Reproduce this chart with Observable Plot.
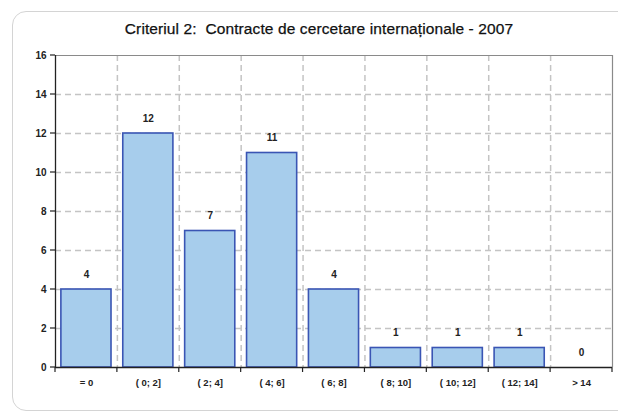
<!DOCTYPE html>
<html>
<head>
<meta charset="utf-8">
<script src="https://cdn.jsdelivr.net/npm/d3@7"></script>
<script src="https://cdn.jsdelivr.net/npm/@observablehq/plot@0.6"></script>
<style>
  html, body { margin: 0; padding: 0; background: #fff; }
  #wrap { position: relative; width: 618px; height: 415px; overflow: hidden; }
  #card { position: absolute; left: 12px; top: 11px; width: 630px; height: 400px;
          border: 1.5px solid #d4d4d4; border-radius: 14px; box-sizing: border-box; }
  #title { position: absolute; left: 0; width: 638px; top: 20px; text-align: center;
           font-family: "Liberation Sans", Arial, sans-serif; font-size: 15.5px; color: #111;
           letter-spacing: 0.1px; -webkit-text-stroke: 0.25px #111; }
  #chart { position: absolute; left: 0; top: 0; }
</style>
</head>
<body>
<div id="wrap">
  <div id="card"></div>
  <div id="title">Criteriul 2:&nbsp; Contracte de cercetare internaționale - 2007</div>
  <div id="chart"></div>
</div>
<script>
const categories = ["= 0", "( 0; 2]", "( 2; 4]", "( 4; 6]", "( 6; 8]", "( 8; 10]", "( 10; 12]", "( 12; 14]", "> 14"];
const counts = [4, 12, 7, 11, 4, 1, 1, 1, 0];
const yTicks = [0, 2, 4, 6, 8, 10, 12, 14, 16];

const data = categories.map((c, i) => ({category: c, count: counts[i]}));

const W = 618, H = 415;
const mL = 55, mR = 6, mT = 55, mB = 48;
const step = (W - mL - mR) / categories.length;
const font = "'Liberation Sans', Arial, sans-serif";

const chart = Plot.plot({
  width: W,
  height: H,
  marginLeft: mL,
  marginRight: mR,
  marginTop: mT,
  marginBottom: mB,
  style: {fontFamily: font, background: "transparent", overflow: "visible"},
  x: {type: "band", domain: categories, paddingInner: 0.19, paddingOuter: 0.095, round: false, axis: null},
  y: {domain: [0, 16], axis: null},
  marks: [
    // horizontal dashed gridlines
    Plot.ruleY(yTicks.filter(t => t > 0 && t < 16), {stroke: "#c4c4c4", strokeWidth: 1.5, strokeDasharray: "6,4"}),
    // vertical dashed gridlines at category boundaries
    Plot.ruleX(categories.slice(1), {stroke: "#c4c4c4", strokeWidth: 1.5, strokeDasharray: "6,4", dx: -step / 2}),
    // frame top and right
    Plot.ruleY([16], {stroke: "#8a8a8a", strokeWidth: 1.2}),
    Plot.ruleX([categories[categories.length - 1]], {stroke: "#8a8a8a", strokeWidth: 1.2, dx: step / 2}),
    // bars
    Plot.barY(data, {x: "category", y: "count", fill: "#a7cdec", stroke: "#3a55b4", strokeWidth: 1.6}),
    // value labels
    Plot.text(data, {x: "category", y: "count", text: d => String(d.count), dy: -15,
      fontSize: 10, fontWeight: "bold", fill: "#222"}),
    // axes lines
    Plot.ruleY([0], {stroke: "#222", strokeWidth: 1.3}),
    Plot.ruleX([categories[0]], {stroke: "#222", strokeWidth: 1.3, dx: -step / 2}),
    // y ticks
    Plot.tickY(yTicks, {y: d => d, stroke: "#222",
      render: (index, scales, values, dims) => {
        const g = d3.create("svg:g");
        for (const i of index) {
          g.append("line").attr("x1", dims.marginLeft - 5).attr("x2", dims.marginLeft)
            .attr("y1", values.y[i]).attr("y2", values.y[i]).attr("stroke", "#222").attr("stroke-width", 1.2);
        }
        return g.node();
      }}),
    Plot.text(yTicks, {y: d => d, text: d => String(d), frameAnchor: "left", dx: -9, textAnchor: "end",
      fontSize: 10, fontWeight: "bold", fill: "#222"}),
    // x ticks at boundaries
    Plot.tickX(categories, {x: d => d, stroke: "#222",
      render: (index, scales, values, dims) => {
        const g = d3.create("svg:g");
        const y0 = dims.height - dims.marginBottom;
        const xs = Array.from(index, i => values.x[i] + scales.x.bandwidth() / 2 - step / 2);
        xs.push(xs[xs.length - 1] + step);
        for (const x of xs) {
          g.append("line").attr("x1", x).attr("x2", x).attr("y1", y0).attr("y2", y0 + 5)
            .attr("stroke", "#222").attr("stroke-width", 1.2);
        }
        return g.node();
      }}),
    // x labels
    Plot.text(categories, {x: d => d, frameAnchor: "bottom", dy: 18, text: d => d,
      fontSize: 9.5, fontWeight: "bold", fill: "#222"})
  ]
});

document.getElementById("chart").appendChild(chart);
</script>
</body>
</html>
